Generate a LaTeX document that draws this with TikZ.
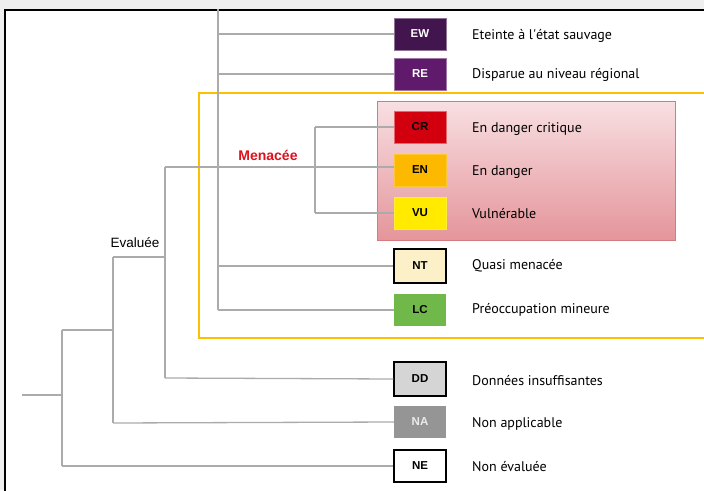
\documentclass[tikz,border=0pt]{standalone}
\usepackage{fontspec}
\setmainfont{PT Sans}
\newfontfamily\codefont{Liberation Sans}
\definecolor{bgout}{HTML}{EFEFEF}
\definecolor{edge}{HTML}{ABABAB}
\definecolor{gold}{HTML}{FCC000}
\definecolor{pinktop}{HTML}{F8DFE2}
\definecolor{pinkbot}{HTML}{E4959A}
\definecolor{pinkline}{HTML}{D47A80}
\definecolor{cEW}{HTML}{42154E}
\definecolor{cRE}{HTML}{5F1A6B}
\definecolor{cCR}{HTML}{D2000F}
\definecolor{cEN}{HTML}{FCB900}
\definecolor{cVU}{HTML}{FFEA00}
\definecolor{cNT}{HTML}{FBF0C8}
\definecolor{cLC}{HTML}{70B84A}
\definecolor{cDD}{HTML}{D5D5D5}
\definecolor{cNA}{HTML}{959595}
\definecolor{menred}{HTML}{E0101C}
\begin{document}
\begin{tikzpicture}[x=1pt,y=-1pt,
  code/.style={minimum width=52pt, minimum height=32pt, inner sep=0pt,
    font=\codefont\bfseries\fontsize{11.5}{13}\selectfont},
  lbl/.style={anchor=west, inner sep=0pt, font=\fontsize{14}{16}\selectfont},
  conn/.style={draw=edge, line width=1.3pt}]
\useasboundingbox (0,0) rectangle (704,490);
\clip (0,0) rectangle (704,490);
\fill[bgout] (0,0) rectangle (704,490);
\draw[fill=white, line width=2pt] (5,10) rectangle (720,500);

% shaded threatened box and threatened frame
\node[draw=gold, line width=2pt, minimum width=520pt, minimum height=245pt, anchor=north west, inner sep=0pt] (menbox) at (198,92) {};
\node[draw=pinkline, line width=0.8pt, top color=pinktop, bottom color=pinkbot, minimum width=298pt, minimum height=139pt, anchor=north west, inner sep=0pt] (redbox) at (377,101) {};

% junction coordinates
\coordinate (r0) at (22,395);
\coordinate (a) at (62,395);
\coordinate (aT) at (62,330);
\coordinate (aB) at (62,466);
\coordinate (b) at (113,330);
\coordinate (bT) at (113,257);
\coordinate (bB) at (113,423);
\coordinate (c) at (165,257);
\coordinate (cT) at (165,167);
\coordinate (cB) at (165,378);
\coordinate (dT) at (218,9);
\coordinate (dB) at (218,310);
\coordinate (d1) at (218,34);
\coordinate (d2) at (218,74);
\coordinate (d3) at (218,266);
\coordinate (eT) at (315,127);
\coordinate (eB) at (315,213);

% boxes
\node[code, fill=cEW, text=white, draw=cEW!60] (EW) at (420,34) {EW};
\node[code, fill=cRE, text=white, draw=cRE!60] (RE) at (420,74) {RE};
\node[code, fill=cCR, text=black, draw=cCR!60] (CR) at (420,127) {CR};
\node[code, fill=cEN, text=black, draw=cEN!80] (EN) at (420,170) {EN};
\node[code, fill=cVU, text=black, draw=cVU!80] (VU) at (420,213) {VU};
\node[code, fill=cNT, text=black, draw=black, line width=1.2pt, minimum height=34pt] (NT) at (420,266) {NT};
\node[code, fill=cLC, text=black] (LC) at (420,310) {LC};
\node[code, fill=cDD, text=black, draw=black, line width=1.2pt, minimum height=34pt] (DD) at (420,379) {DD};
\node[code, fill=cNA, text=white!92!black] (NA) at (420,422) {NA};
\node[code, fill=white, text=black, draw=black, line width=1.2pt] (NE) at (420,466) {NE};

% labels
\node[lbl] (tEW) at (472,36) {Eteinte à l\textquotesingle état sauvage};
\node[lbl] (tRE) at (472,75) {Disparue au niveau régional};
\node[lbl] (tCR) at (472,129) {En danger critique};
\node[lbl] (tEN) at (472,172) {En danger};
\node[lbl] (tVU) at (472,214) {Vulnérable};
\node[lbl] (tNT) at (472,266) {Quasi menacée};
\node[lbl] (tLC) at (472,310) {Préoccupation mineure};
\node[lbl] (tDD) at (472,381) {Données insuffisantes};
\node[lbl] (tNA) at (472,424) {Non applicable};
\node[lbl] (tNE) at (472,467) {Non évaluée};
\node[font=\codefont\bfseries\fontsize{14}{16}\selectfont, text=menred] (men) at (268,155) {Menacée};
\node[font=\codefont\fontsize{13.5}{16}\selectfont] (eval) at (135,243) {Evaluée};

% connectors
\draw[conn] (r0) -- (a);
\draw[conn] (aT) -- (aB);
\draw[conn] (aT) -- (b);
\draw[conn] (bT) -- (bB);
\draw[conn] (bT) -- (c);
\draw[conn] (cT) -- (cB);
\draw[conn] (cT) -- (cT -| EN.west);
\draw[conn] (cB) -- (DD.west);
\draw[conn] (bB) -- (NA.west);
\draw[conn] (aB) -- (NE.west);
\draw[conn] (dT) -- (dB);
\draw[conn] (d1) -- (EW.west);
\draw[conn] (d2) -- (RE.west);
\draw[conn] (d3) -- (NT.west);
\draw[conn] (dB) -- (LC.west);
\draw[conn] (eT) -- (eB);
\draw[conn] (eT) -- (CR.west);
\draw[conn] (eB) -- (VU.west);
\end{tikzpicture}
\end{document}
